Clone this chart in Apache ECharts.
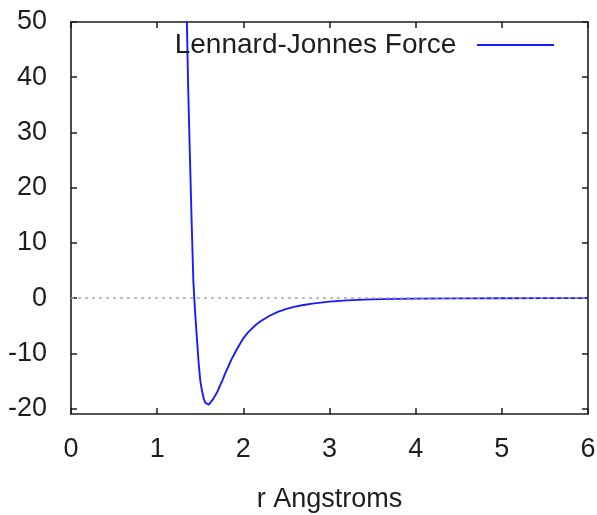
<!DOCTYPE html>
<html>
<head>
<meta charset="utf-8">
<script src="https://cdn.jsdelivr.net/npm/echarts@6/dist/echarts.min.js"></script>
<style>
html,body{margin:0;padding:0;background:#fff;}
#chart{width:597px;height:515px;}
</style>
</head>
<body>
<div id="chart"></div>
<script>
// Data
var seriesName = 'Lennard-Jonnes Force';
var xTitle = 'r Angstroms';
var rValues = [1.34, 1.36, 1.38, 1.40, 1.42, 1.44, 1.46, 1.48, 1.50, 1.52, 1.54, 1.56, 1.58, 1.60, 1.62, 1.64, 1.66, 1.68, 1.70, 1.72, 1.74, 1.76, 1.78, 1.80, 1.82, 1.84, 1.86, 1.88, 1.90, 1.92, 1.95, 2.00, 2.05, 2.10, 2.15, 2.20, 2.30, 2.40, 2.50, 2.60, 2.70, 2.80, 3.0, 3.2, 3.4, 3.6, 3.8, 4.0, 4.5, 5.0, 5.5, 6.0];
var forceValues = [54, 38, 25.7, 13.9, 3.0, -2.5, -7, -11.5, -14.9, -16.8, -18.2, -19.0, -19.3, -19.3, -19.0, -18.5, -18.0, -17.5, -16.9, -16.2, -15.5, -14.8, -14.0, -13.3, -12.6, -11.9, -11.2, -10.6, -10.0, -9.4, -8.6, -7.3, -6.3, -5.5, -4.8, -4.2, -3.25, -2.5, -1.95, -1.55, -1.25, -1.0, -0.65, -0.42, -0.28, -0.2, -0.14, -0.1, -0.05, -0.03, -0.02, -0.01];
var xTicks = [0, 1, 2, 3, 4, 5, 6];
var yTicks = [-20, -10, 0, 10, 20, 30, 40, 50];

var points = rValues.map(function (r, i) { return [r, forceValues[i]]; });

var FONT = '"Liberation Sans", Arial, sans-serif';
var TXT = '#1e1e1e';
var AX = '#1e1e1e';

var chart = echarts.init(document.getElementById('chart'), null, {renderer: 'canvas'});
chart.setOption({
  animation: false,
  backgroundColor: '#ffffff',
  grid: {left: 71, right: 9, top: 22, bottom: 101, containLabel: false, outerBoundsMode: 'none'},
  legend: {
    show: true,
    right: 43,
    top: 31,
    padding: 0,
    align: 'right',
    itemWidth: 77,
    itemHeight: 2,
    itemGap: 0,
    selectedMode: false,
    data: [{name: seriesName, icon: 'rect'}],
    formatter: function (n) { return n + '  '; },
    textStyle: {fontFamily: FONT, fontSize: 28, color: TXT}
  },
  xAxis: [{
    type: 'value', position: 'bottom', min: 0, max: 6, interval: 1,
    name: xTitle, nameLocation: 'middle', nameGap: 72,
    nameTextStyle: {fontFamily: FONT, fontSize: 27, color: TXT},
    axisLine: {show: true, onZero: false, lineStyle: {color: AX, width: 1.6}},
    axisTick: {show: true, inside: true, length: 6, lineStyle: {color: AX, width: 1.5}},
    axisLabel: {show: true, margin: 22, fontFamily: FONT, fontSize: 27, color: TXT,
      formatter: function (v) { return xTicks.indexOf(v) >= 0 ? String(v) : ''; }},
    splitLine: {show: false}
  }, {
    type: 'value', position: 'top', min: 0, max: 6, interval: 1,
    axisLine: {show: true, onZero: false, lineStyle: {color: AX, width: 1.6}},
    axisTick: {show: true, inside: true, length: 6, lineStyle: {color: AX, width: 1.5}},
    axisLabel: {show: false},
    splitLine: {show: false}
  }],
  yAxis: [{
    type: 'value', position: 'left', min: -21, max: 50,
    axisLine: {show: true, onZero: false, lineStyle: {color: AX, width: 1.6}},
    axisTick: {show: true, inside: true, length: 6, customValues: yTicks, lineStyle: {color: AX, width: 1.5}},
    axisLabel: {show: true, margin: 24, customValues: yTicks, fontFamily: FONT, fontSize: 27, color: TXT},
    splitLine: {show: false}
  }, {
    type: 'value', position: 'right', min: -21, max: 50,
    axisLine: {show: true, onZero: false, lineStyle: {color: AX, width: 1.6}},
    axisTick: {show: true, inside: true, length: 6, customValues: yTicks, lineStyle: {color: AX, width: 1.5}},
    axisLabel: {show: false},
    splitLine: {show: false}
  }],
  series: [{
    name: seriesName,
    type: 'line',
    xAxisIndex: 0,
    yAxisIndex: 0,
    data: points,
    showSymbol: false,
    symbol: 'none',
    smooth: false,
    clip: true,
    itemStyle: {color: '#1a1aff'},
    lineStyle: {color: '#1a1aff', width: 1.9},
    markLine: {
      silent: true,
      symbol: ['none', 'none'],
      label: {show: false},
      lineStyle: {color: '#a8a8a8', type: [3, 4], width: 1.5},
      data: [{yAxis: 0}]
    }
  }]
});
</script>
</body>
</html>
